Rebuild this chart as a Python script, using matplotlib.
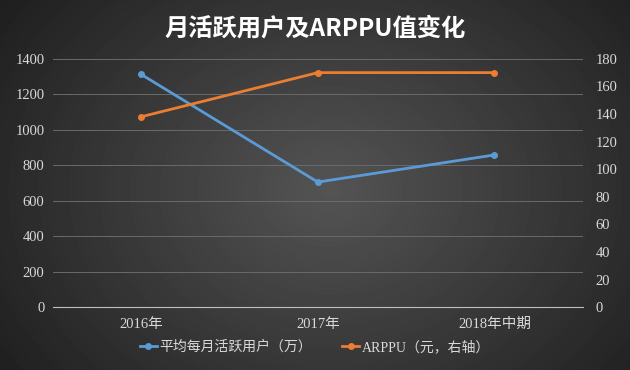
import numpy as np
import matplotlib.pyplot as plt

plt.rcParams['font.family'] = ['Liberation Serif', 'Noto Sans CJK SC', 'DejaVu Sans']

# data
categories = ['2016年', '2017年', '2018年中期']
mau = [1312, 705, 858]          # 平均每月活跃用户（万）, left axis
arppu = [138, 170, 170]         # ARPPU（元）, right axis
left_ticks = list(range(0, 1401, 200))
right_ticks = list(range(0, 181, 20))

blue = '#5b9bd5'
orange = '#ed7d31'
txt = '#d9d9d9'

fig = plt.figure(figsize=(6.3, 3.7), dpi=100)

# dark radial background
bg = fig.add_axes([0, 0, 1, 1], zorder=-10)
yy, xx = np.mgrid[0:370, 0:630]
r = np.sqrt(((xx - 330) / 330.0) ** 2 + ((yy - 190) / 260.0) ** 2)
val = np.clip(0.33 - 0.17 * r, 0.12, 0.35)
bg.imshow(val, cmap='gray', vmin=0, vmax=1, aspect='auto', extent=[0, 1, 0, 1])
bg.axis('off')

ax = fig.add_axes([0.084, 0.170, 0.841, 0.671])
ax.patch.set_alpha(0)
x = np.arange(len(categories))
l1, = ax.plot(x, mau, color=blue, lw=2, marker='o', ms=4, label='平均每月活跃用户（万）')
ax.set_xlim(-0.5, len(categories) - 0.5)
ax.set_ylim(0, 1400)
ax.set_yticks(left_ticks)
ax.set_xticks(x)
ax.set_xticklabels(categories)
ax.grid(axis='y', color='#6a6a6a', lw=0.7)
ax.set_axisbelow(True)
for s in ['top', 'right', 'left']:
    ax.spines[s].set_visible(False)
ax.spines['bottom'].set_color('#bfbfbf')
ax.tick_params(length=0, colors=txt, labelsize=10.5)
ax.tick_params(axis='x', pad=8)
ax.tick_params(axis='y', pad=6)

ax2 = ax.twinx()
l2, = ax2.plot(x, arppu, color=orange, lw=2, marker='o', ms=4, label='ARPPU（元，右轴）')
ax2.set_ylim(0, 180)
ax2.set_yticks(right_ticks)
for s in ax2.spines.values():
    s.set_visible(False)
ax2.tick_params(length=0, colors=txt, labelsize=10.5, pad=9)

fig.text(0.5, 0.922, '月活跃用户及ARPPU值变化', ha='center', va='center',
         color='white', fontsize=17.5, fontweight='bold', family=['Noto Sans CJK SC'])

fig.legend(handles=[l1, l2], loc='center', bbox_to_anchor=(0.5, 0.062), ncol=2,
           frameon=False, fontsize=10, labelcolor=txt, handlelength=1.2,
           handletextpad=0.2, columnspacing=2.2)

fig.savefig('out.png', dpi=100)
